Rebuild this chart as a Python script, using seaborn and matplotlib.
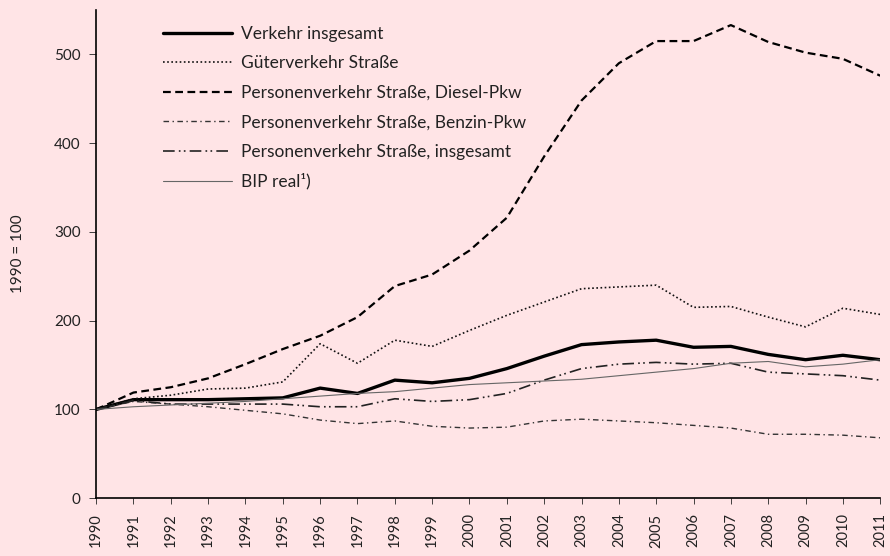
import numpy as np
import pandas as pd
import matplotlib
matplotlib.use("Agg")
import matplotlib.pyplot as plt
import seaborn as sns

years = list(range(1990, 2012))

verkehr_gesamt = [100, 111, 111, 111, 112, 113, 124, 118, 133, 130, 135, 146, 160, 173, 176, 178,
                  170, 171, 162, 156, 161, 156]
gueter_strasse = [100, 112, 116, 123, 124, 131, 174, 152, 178, 171, 189, 206, 221, 236, 238, 240,
                  215, 216, 204, 193, 214, 207]
pv_diesel = [100, 119, 125, 135, 151, 168, 183, 204, 239, 252, 279, 316, 385, 448, 490, 515,
             515, 533, 514, 502, 495, 476]
pv_benzin = [100, 109, 106, 103, 99, 95, 88, 84, 87, 81, 79, 80, 87, 89, 87, 85,
             82, 79, 72, 72, 71, 68]
pv_gesamt = [100, 110, 106, 106, 106, 106, 103, 103, 112, 109, 111, 118, 133, 146, 151, 153,
             151, 152, 142, 140, 138, 133]
bip_real = [100, 103, 105, 107, 109, 112, 115, 118, 120, 124, 128, 130, 132, 134, 138, 142,
            146, 152, 154, 148, 151, 156]

labels = ["Verkehr insgesamt", "Güterverkehr Straße", "Personenverkehr Straße, Diesel-Pkw",
          "Personenverkehr Straße, Benzin-Pkw", "Personenverkehr Straße, insgesamt", "BIP real¹)"]
series = [verkehr_gesamt, gueter_strasse, pv_diesel, pv_benzin, pv_gesamt, bip_real]

# line look per series: color, width, linestyle
styles = [
    ("#000000", 2.4, "-"),
    ("#111111", 1.2, (0, (1, 1.5))),
    ("#000000", 1.6, (0, (3.5, 2))),
    ("#333333", 1.0, (0, (4, 2.5, 1, 2.5))),
    ("#222222", 1.2, (0, (7, 2.5, 1, 2, 1, 2.5))),
    ("#666666", 0.8, "-"),
]

bg = "#FFE4E6"
sns.set_style("ticks")
plt.rcParams["font.family"] = ["Lato", "DejaVu Sans"]

fig = plt.figure(figsize=(8.9, 5.56), dpi=100, facecolor=bg)
ax = fig.add_axes([0.108, 0.104, 0.881, 0.878])
ax.set_facecolor(bg)

for lab, vals, (col, lw, ls) in zip(labels, series, styles):
    df = pd.DataFrame({"Jahr": years, "Wert": vals})
    sns.lineplot(data=df, x="Jahr", y="Wert", ax=ax, color=col, lw=lw, linestyle=ls, label=lab)

ax.set_xlim(1990, 2011)
ax.set_ylim(0, 550)
ax.set_xticks(years)
ax.set_xticklabels([str(y) for y in years], rotation=90, fontsize=10.5, color="#222222")
ax.set_yticks([0, 100, 200, 300, 400, 500])
ax.tick_params(axis="y", labelsize=11, colors="#222222", length=5, width=0.6, left=True, pad=6)
ax.tick_params(axis="x", length=4, width=0.6, direction="out", pad=7)
ax.set_xlabel("")
ax.set_ylabel("1990 = 100", fontsize=11, color="#222222", labelpad=21)
sns.despine(ax=ax)
for s in ["left", "bottom"]:
    ax.spines[s].set_linewidth(1.2)
    ax.spines[s].set_color("#000000")

leg = ax.legend(loc="upper left", bbox_to_anchor=(0.065, 1.0), frameon=False, fontsize=12.5,
                handlelength=4.0, labelspacing=0.78, handletextpad=0.5)
for t in leg.get_texts():
    t.set_color("#222222")

fig.savefig("out.png", dpi=100, facecolor=bg)
